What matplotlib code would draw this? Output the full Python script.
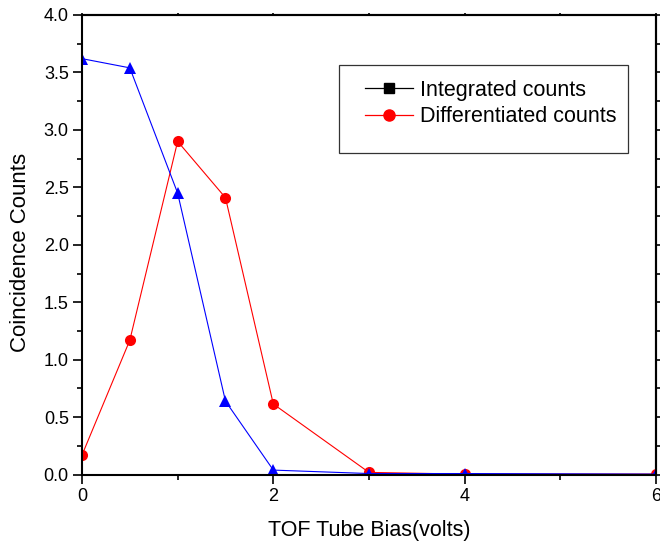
import matplotlib
matplotlib.use("Agg")
import matplotlib.pyplot as plt
from matplotlib.lines import Line2D
from matplotlib.patches import Rectangle
from matplotlib.ticker import MultipleLocator, FormatStrFormatter

plt.rcParams['font.family'] = ['Liberation Sans', 'DejaVu Sans']

# TOF tube bias (volts) and measured coincidence counts
bias = [0, 0.5, 1, 1.5, 2, 3, 4, 6]
integrated = [3.62, 3.54, 2.45, 0.64, 0.04, 0.01, 0.01, 0.005]
differentiated = [0.17, 1.17, 2.90, 2.41, 0.615, 0.02, 0.005, 0.005]

x_label = "TOF Tube Bias(volts)"
y_label = "Coincidence Counts"
legend_labels = ["Integrated counts", "Differentiated counts"]

fig = plt.figure(figsize=(6.6, 5.45), dpi=100)
ax = fig.add_axes([0.1242, 0.129, 0.8697, 0.8435])

ax.plot(bias, differentiated, color='red', lw=0.8, marker='o',
        markersize=8, markeredgewidth=0, zorder=2)
ax.plot(bias, integrated, color='blue', lw=0.8, marker='^',
        markersize=9, markeredgewidth=0, zorder=2.1)

ax.set_xlim(0, 6)
ax.set_ylim(0, 4.0)
ax.xaxis.set_major_locator(MultipleLocator(2))
ax.xaxis.set_minor_locator(MultipleLocator(1))
ax.yaxis.set_major_locator(MultipleLocator(0.5))
ax.yaxis.set_minor_locator(MultipleLocator(0.25))
ax.yaxis.set_major_formatter(FormatStrFormatter('%.1f'))

for s in ax.spines.values():
    s.set_linewidth(1.5)
    s.set_zorder(3)

ax.tick_params(which='major', direction='out', length=6.5, width=1.2,
               labelsize=13, pad=3)
ax.tick_params(which='minor', direction='out', length=3.5, width=1.2)
ax.tick_params(axis='x', which='both', top=False)
ax.tick_params(axis='y', which='both', right=False)

# short ticks along the top and right edges
sec_top = ax.secondary_xaxis('top')
sec_top.set_xticks([0, 1, 2, 3, 4, 5, 6])
sec_top.tick_params(direction='out', length=1.5, width=1.2, labeltop=False)
sec_top.spines['top'].set_linewidth(1.5)
sec_right = ax.secondary_yaxis('right')
sec_right.set_yticks([i * 0.25 for i in range(17)])
sec_right.tick_params(direction='out', length=4, width=1.2, labelright=False)
sec_right.spines['right'].set_linewidth(1.5)

ax.set_xlabel(x_label, fontsize=15.5, labelpad=11)
ax.set_ylabel(y_label, fontsize=16, labelpad=9)
ax.yaxis.label.set_y(0.483)

# legend box
ax.add_patch(Rectangle((0.4477, 0.70), 0.5033, 0.191, transform=ax.transAxes,
                       fill=False, edgecolor='#333333', lw=0.9, zorder=4))
handles = [
    Line2D([], [], color='black', lw=0.9, marker='s', markersize=7),
    Line2D([], [], color='red', lw=0.9, marker='o', markersize=8),
]
leg = ax.legend(handles, legend_labels, loc='upper left',
                bbox_to_anchor=(0.493, 0.859), frameon=False, fontsize=15.5,
                handlelength=2.23, handletextpad=0.33, labelspacing=0.25,
                borderpad=0, borderaxespad=0)

fig.savefig("out.png", dpi=100)
